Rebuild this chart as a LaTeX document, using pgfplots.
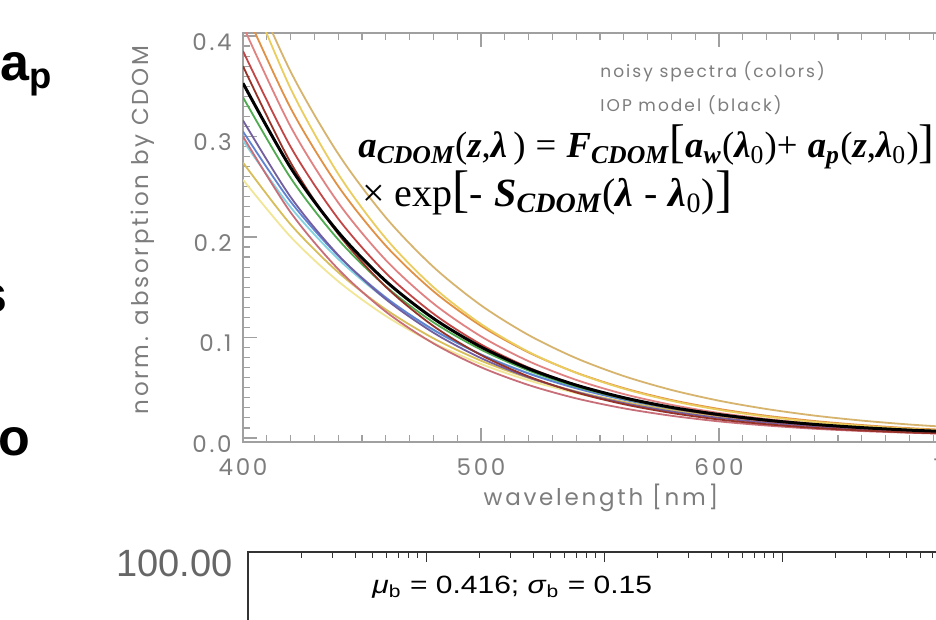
\documentclass[border=0pt]{standalone}
\usepackage{pgfplots}
\pgfplotsset{compat=1.18}
\usepackage{pgfplotstable}
\usepackage{fontspec}
\usepackage{graphicx}
\setmainfont{Liberation Sans}
\newfontfamily\idl[LetterSpace=12]{Poppins}
\newfontfamily\tnr{Liberation Serif}
\newcommand\bi[1]{{\tnr\bfseries\itshape #1}}
\newcommand\rg[1]{{\tnr #1}}
\definecolor{cblack}{RGB}{0,0,0}
\definecolor{corange}{RGB}{225,145,70}
\definecolor{clred}{RGB}{225,130,130}
\definecolor{cred}{RGB}{195,70,70}
\definecolor{ctan}{RGB}{215,180,110}
\definecolor{cyellow}{RGB}{235,205,95}
\definecolor{cgold}{RGB}{215,190,90}
\definecolor{cdred}{RGB}{150,50,40}
\definecolor{cgreen}{RGB}{80,170,80}
\definecolor{cpurple}{RGB}{115,95,160}
\definecolor{cblue}{RGB}{95,130,210}
\definecolor{ccyan}{RGB}{130,210,225}
\definecolor{clyel}{RGB}{240,230,150}
\definecolor{cpink}{RGB}{200,110,120}
\definecolor{axgray}{RGB}{160,160,160}
\definecolor{txgray}{RGB}{125,125,125}

\pgfplotstableread{
lam black tan yellow orange lred red dred green purple blue cyan gold lyel pink
400 0.353 0.470 0.460 0.430 0.410 0.385 0.370 0.339 0.316 0.305 0.296 0.274 0.257 0.300
420 0.2690 0.3646 0.3477 0.3283 0.3099 0.2898 0.2741 0.2588 0.2398 0.2352 0.2296 0.2125 0.2002 0.2245
440 0.2049 0.2828 0.2628 0.2506 0.2342 0.2182 0.2031 0.1975 0.1820 0.1813 0.1781 0.1649 0.1559 0.1680
460 0.1561 0.2194 0.1986 0.1913 0.1770 0.1642 0.1504 0.1508 0.1381 0.1398 0.1382 0.1279 0.1214 0.1257
480 0.1190 0.1702 0.1501 0.1460 0.1338 0.1237 0.1114 0.1151 0.1048 0.1078 0.1072 0.0992 0.0946 0.0941
500 0.0906 0.1320 0.1134 0.1115 0.1011 0.0931 0.0825 0.0879 0.0795 0.0831 0.0831 0.0769 0.0736 0.0704
520 0.0690 0.1024 0.0857 0.0851 0.0764 0.0701 0.0612 0.0671 0.0603 0.0641 0.0645 0.0597 0.0573 0.0527
540 0.0526 0.0794 0.0648 0.0650 0.0578 0.0527 0.0453 0.0512 0.0458 0.0494 0.0500 0.0463 0.0447 0.0394
560 0.0401 0.0616 0.0490 0.0496 0.0437 0.0397 0.0336 0.0391 0.0347 0.0381 0.0388 0.0359 0.0348 0.0295
580 0.0305 0.0478 0.0370 0.0378 0.0330 0.0299 0.0249 0.0298 0.0264 0.0294 0.0301 0.0279 0.0271 0.0221
600 0.0233 0.0371 0.0280 0.0289 0.0249 0.0225 0.0184 0.0228 0.0200 0.0227 0.0234 0.0216 0.0211 0.0165
620 0.0177 0.0288 0.0212 0.0221 0.0189 0.0169 0.0137 0.0174 0.0152 0.0175 0.0181 0.0168 0.0164 0.0124
640 0.0135 0.0223 0.0160 0.0169 0.0142 0.0127 0.0101 0.0133 0.0115 0.0135 0.0141 0.0130 0.0128 0.0092
660 0.0103 0.0173 0.0121 0.0129 0.0108 0.0096 0.0075 0.0101 0.0088 0.0104 0.0109 0.0101 0.0100 0.0069
680 0.0078 0.0134 0.0091 0.0098 0.0081 0.0072 0.0055 0.0077 0.0066 0.0080 0.0085 0.0078 0.0078 0.0052
700 0.0060 0.0104 0.0069 0.0075 0.0062 0.0054 0.0041 0.0059 0.0050 0.0062 0.0065 0.0061 0.0060 0.0039
}\spectra

\begin{document}
\begin{tikzpicture}
\path[use as bounding box, clip] (0pt,0pt) rectangle (468pt,310pt);
\fill[white] (0pt,0pt) rectangle (468pt,310pt);

% main axis
\begin{axis}[
  at={(121.5pt,89pt)}, anchor=south west, scale only axis,
  width=357pt, height=204.5pt,
  xmin=400, xmax=700, ymin=-0.004, ymax=0.403,
  xtick={400,500,600,700}, ytick={0,0.1,0.2,0.3,0.4},
  minor x tick num=9, minor y tick num=9,
  tick align=inside,
  major tick length=7pt, minor tick length=3.5pt,
  axis line style={axgray, line width=0.8pt},
  every tick/.style={axgray, line width=0.6pt},
  /pgf/number format/assume math mode=true,
  yticklabel style={/pgf/number format/fixed, /pgf/number format/fixed zerofill, /pgf/number format/precision=1,
    anchor=east, inner sep=0pt, xshift=-5.5pt, yshift=-3pt},
  xticklabel style={anchor=center, inner sep=0pt, yshift=-12.5pt},
  ticklabel style={font=\idl\fontsize{11.5}{12}\selectfont, text=txgray},
  every axis plot/.append style={line width=0.9pt, smooth},
]
\addplot[clyel] table[x=lam,y=lyel]{\spectra};
\addplot[cgold] table[x=lam,y=gold]{\spectra};
\addplot[ccyan] table[x=lam,y=cyan]{\spectra};
\addplot[cblue] table[x=lam,y=blue]{\spectra};
\addplot[cpurple] table[x=lam,y=purple]{\spectra};
\addplot[cgreen] table[x=lam,y=green]{\spectra};
\addplot[cpink] table[x=lam,y=pink]{\spectra};
\addplot[cdred] table[x=lam,y=dred]{\spectra};
\addplot[cred] table[x=lam,y=red]{\spectra};
\addplot[clred] table[x=lam,y=lred]{\spectra};
\addplot[corange] table[x=lam,y=orange]{\spectra};
\addplot[cyellow] table[x=lam,y=yellow]{\spectra};
\addplot[ctan] table[x=lam,y=tan]{\spectra};
\addplot[cblack, line width=1.5pt] table[x=lam,y=black]{\spectra};
\end{axis}

% bottom (partial) axis
\begin{axis}[
  at={(124pt,34pt)}, anchor=north west, scale only axis,
  width=356pt, height=92.5pt,
  xmode=log, ymode=log,
  xmin=1, xmax=10000, ymin=10, ymax=100,
  tick align=inside,
  xticklabels={}, yticklabels={},
  major tick length=5pt, minor tick length=3pt,
  axis line style={black!80, line width=0.6pt},
  every tick/.style={black!80, line width=0.5pt},
]
\end{axis}

% axis labels
\node[font=\idl\fontsize{11.5}{12}\selectfont, text=txgray, rotate=90] at (71.5pt,195pt) {norm. absorption by CDOM};
\node[font=\idl\fontsize{11.5}{12}\selectfont, text=txgray] at (300.5pt,61pt) {wavelength [nm]};

% annotations
\node[anchor=west, inner sep=0pt, font=\idl\fontsize{8.5}{9}\selectfont, text=txgray] at (300pt,274pt) {noisy spectra (colors)};
\node[anchor=west, inner sep=0pt, font=\idl\fontsize{8.5}{9}\selectfont, text=txgray] at (300pt,257.5pt) {IOP model (black)};

\node[anchor=west, inner sep=0pt] at (179pt,236.5pt) {\resizebox{288pt}{!}{\fontsize{14}{16}\selectfont
 \bi{a}\textsubscript{\bi{CDOM}}\rg{(}\bi{z}\rg{,}\bi{λ}\,\rg{)} \rg{=} \bi{F}\textsubscript{\bi{CDOM}}\rg{\fontsize{18}{18}\selectfont[}\bi{a}\textsubscript{\bi{w}}\rg{(}\bi{λ}\textsubscript{\rg{0}}\rg{)}\rg{+} \bi{a}\textsubscript{\bi{p}}\rg{(}\bi{z}\rg{,}\bi{λ}\textsubscript{\rg{0}}\rg{)}\rg{\fontsize{18}{18}\selectfont]}}};
\node[anchor=west, inner sep=0pt] at (181pt,213.5pt) {\resizebox{185pt}{!}{\fontsize{14}{16}\selectfont
 \rg{× exp}\rg{\fontsize{18}{18}\selectfont[}\rg{-} \bi{S}\textsubscript{\bi{CDOM}}\rg{(}\bi{λ} \rg{-} \bi{λ}\textsubscript{\rg{0}}\rg{)}\rg{\fontsize{18}{18}\selectfont]}}};

% stray slide text on the left
\node[anchor=base west, inner sep=0pt, font=\bfseries\fontsize{26}{26}\selectfont] at (0pt,269.5pt) {a\textsubscript{p}};
\node[anchor=base east, inner sep=0pt, font=\bfseries\fontsize{26}{26}\selectfont] at (4pt,153.5pt) {s};
\node[anchor=base west, inner sep=0pt, font=\bfseries\fontsize{26}{26}\selectfont] at (-1pt,82pt) {o};

% bottom axis texts
\node[anchor=east, inner sep=0pt, font=\fontsize{19}{19}\selectfont, text=black!60] at (116.5pt,28.5pt) {100.00};
\node[anchor=west, inner sep=0pt] at (186pt,16.5pt) {\scalebox{1.2}[1]{\fontsize{12.5}{13}\selectfont \textit{μ}\textsubscript{b} = 0.416; \textit{σ}\textsubscript{b} = 0.15}};
\end{tikzpicture}
\end{document}
